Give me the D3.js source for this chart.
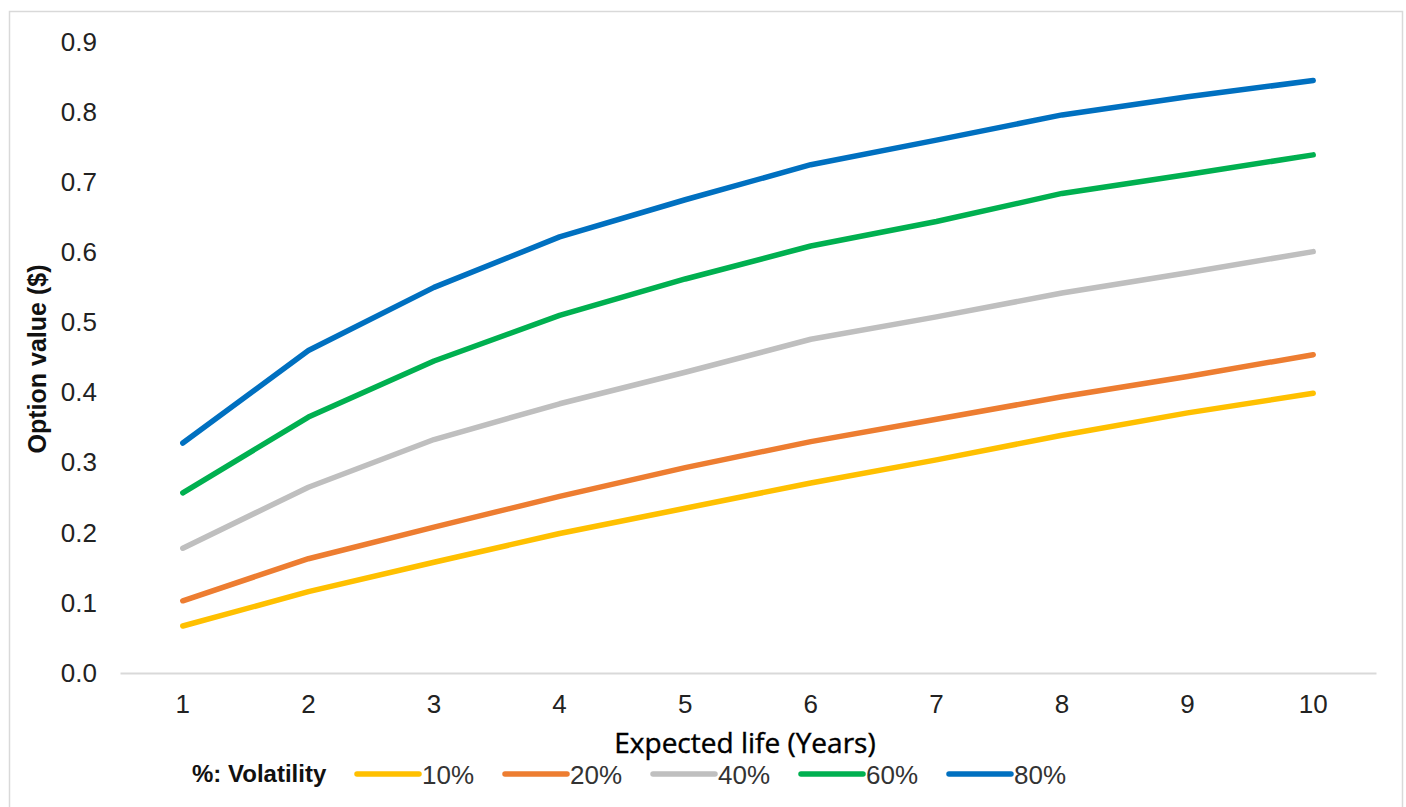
<!DOCTYPE html>
<html>
<head>
<meta charset="utf-8">
<script src="https://cdn.jsdelivr.net/npm/d3@7/dist/d3.min.js"></script>
<style>
  html, body { margin: 0; padding: 0; background: #fff; }
  svg { display: block; font-family: "Liberation Sans", Arial, sans-serif; }
</style>
</head>
<body>
<svg id="chart" width="1406" height="807"></svg>
<script>
// Expected life in years (x categories)
const years = [1, 2, 3, 4, 5, 6, 7, 8, 9, 10];

// Option value ($) for each volatility level
const vol10 = [0.067, 0.116, 0.158, 0.199, 0.235, 0.271, 0.304, 0.339, 0.371, 0.399];
const vol20 = [0.103, 0.163, 0.208, 0.252, 0.293, 0.330, 0.362, 0.394, 0.423, 0.454];
const vol40 = [0.178, 0.265, 0.333, 0.384, 0.429, 0.476, 0.508, 0.542, 0.571, 0.601];
const vol60 = [0.257, 0.365, 0.445, 0.510, 0.562, 0.609, 0.644, 0.684, 0.711, 0.739];
const vol80 = [0.328, 0.460, 0.550, 0.622, 0.675, 0.725, 0.760, 0.796, 0.822, 0.845];

const seriesNames = ["10%", "20%", "40%", "60%", "80%"];
const seriesColors = ["#FFC000", "#ED7D31", "#BFBFBF", "#00B050", "#0070C0"];
const yTicks = [0, 0.1, 0.2, 0.3, 0.4, 0.5, 0.6, 0.7, 0.8, 0.9];

const series = [vol10, vol20, vol40, vol60, vol80].map((values, i) => ({
  name: seriesNames[i],
  color: seriesColors[i],
  values: values.map((v, j) => ({ year: years[j], value: v }))
}));

const baseFont = "'Liberation Sans', Arial, sans-serif";
const svg = d3.select("#chart");

// chart frame
svg.append("rect")
  .attr("x", 9.5).attr("y", 11.5)
  .attr("width", 1393).attr("height", 820)
  .attr("fill", "#fff")
  .attr("stroke", "#D9D9D9")
  .attr("stroke-width", 1.5);

const plot = { left: 120, right: 1376, top: 42, bottom: 673 };

const x = d3.scaleBand()
  .domain(years)
  .range([plot.left, plot.right]);

const y = d3.scaleLinear()
  .domain([0, 0.9])
  .range([plot.bottom, plot.top]);

const cx = d => x(d) + x.bandwidth() / 2;

// x axis baseline and labels
const xAxis = svg.append("g")
  .attr("transform", `translate(0,${plot.bottom})`)
  .call(d3.axisBottom(x).tickSize(0).tickPadding(22));
xAxis.select(".domain").attr("stroke", "#D9D9D9").attr("stroke-width", 2);
xAxis.selectAll("text")
  .style("font-size", "26px")
  .style("font-family", baseFont)
  .attr("fill", "#222");

// y axis labels
const yAxis = svg.append("g")
  .attr("transform", `translate(97,0)`)
  .call(d3.axisLeft(y).tickValues(yTicks).tickFormat(d3.format(".1f")).tickSize(0).tickPadding(0));
yAxis.select(".domain").remove();
yAxis.selectAll("text")
  .style("font-size", "26px")
  .style("font-family", baseFont)
  .attr("fill", "#222");

// axis titles
svg.append("text")
  .attr("transform", `translate(46,359) rotate(-90)`)
  .attr("text-anchor", "middle")
  .style("font-size", "25px")
  .style("font-weight", "bold")
  .style("font-family", baseFont)
  .attr("fill", "#111")
  .text("Option value ($)");

svg.append("text")
  .attr("x", 745).attr("y", 753)
  .attr("text-anchor", "middle")
  .style("font-size", "28px")
  .style("font-weight", "500")
  .style("font-family", "'Open Sans', 'DejaVu Sans', sans-serif")
  .attr("fill", "#000")
  .attr("stroke", "#000")
  .attr("stroke-width", 0.4)
  .text("Expected life (Years)");

// series lines
const line = d3.line()
  .x(d => cx(d.year))
  .y(d => y(d.value));

svg.append("g").selectAll("path")
  .data(series)
  .join("path")
  .attr("d", d => line(d.values))
  .attr("fill", "none")
  .attr("stroke", d => d.color)
  .attr("stroke-width", 5.5)
  .attr("stroke-linecap", "round")
  .attr("stroke-linejoin", "round");

// legend
const legend = svg.append("g");
legend.append("text")
  .attr("x", 192).attr("y", 782)
  .style("font-size", "24px")
  .style("font-weight", "bold")
  .style("font-family", baseFont)
  .attr("fill", "#111")
  .text("%: Volatility");

const item = legend.selectAll("g.item")
  .data(series)
  .join("g")
  .attr("class", "item")
  .attr("transform", (d, i) => `translate(${357 + i * 148},774)`);
item.append("line")
  .attr("x1", 0).attr("x2", 62)
  .attr("stroke", d => d.color)
  .attr("stroke-width", 5.5)
  .attr("stroke-linecap", "round");
item.append("text")
  .attr("x", 65).attr("y", 9.5)
  .style("font-size", "26px")
  .style("font-family", baseFont)
  .attr("fill", "#333")
  .text(d => d.name);
</script>
</body>
</html>
